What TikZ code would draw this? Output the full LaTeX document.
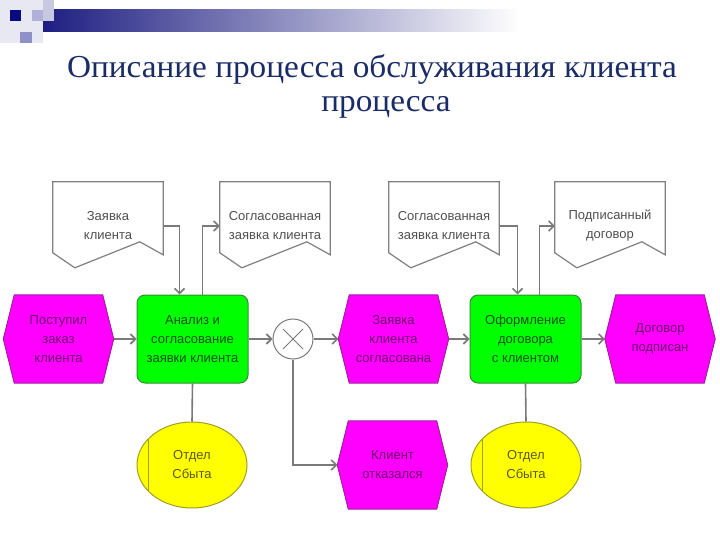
\documentclass[tikz,border=0pt]{standalone}
\usepackage{fontspec}
\setmainfont{Liberation Serif}
\newfontfamily\dsans{Liberation Sans}
\usetikzlibrary{calc,arrows.meta,backgrounds,shapes.geometric}
\definecolor{linegray}{HTML}{7A7A7A}
\definecolor{evfill}{HTML}{FF00FF}
\definecolor{evborder}{HTML}{A020A0}
\definecolor{evtext}{HTML}{6E006E}
\definecolor{fnfill}{HTML}{00FF00}
\definecolor{fnborder}{HTML}{309030}
\definecolor{fntext}{HTML}{0E500E}
\definecolor{orgfill}{HTML}{FFFF00}
\definecolor{orgborder}{HTML}{A0A020}
\definecolor{orgtext}{HTML}{5A5A10}
\definecolor{doctext}{HTML}{505050}
\definecolor{docborder}{HTML}{808080}
\definecolor{titleblue}{HTML}{1A2C68}
\definecolor{navy}{HTML}{1E1E82}
\tikzset{
  box/.style={inner sep=0pt, align=center, font=\dsans\fontsize{13}{19}\selectfont},
  event/.style={box, minimum width=110pt, minimum height=88pt, text=evtext},
  fn/.style={box, rounded corners=8pt, draw=fnborder, fill=fnfill, line width=1pt,
    minimum width=111pt, minimum height=88pt, text=fntext},
  docnode/.style={box, minimum width=110pt, minimum height=88pt, text=doctext},
  org/.style={box, ellipse, draw=orgborder, fill=orgfill, line width=1pt,
    minimum width=110pt, minimum height=86pt, text=orgtext},
  flow/.style={draw=linegray, line width=1.6pt, -{Straight Barb[length=5pt,width=10pt]}},
  link/.style={draw=linegray, line width=1.6pt},
  hexdraw/.style={fill=evfill, draw=evborder, line width=1pt},
  docdraw/.style={fill=white, draw=docborder, line width=1.2pt},
  titletext/.style={font=\fontsize{32}{36}\selectfont, text=titleblue, inner sep=0pt, anchor=base}
}
\newcommand\hexshape[1]{\path[hexdraw] ($(#1.north west)+(11,0)$) -- ($(#1.north east)+(-11,0)$) -- (#1.east) -- ($(#1.south east)+(-11,0)$) -- ($(#1.south west)+(11,0)$) -- (#1.west) -- cycle;}
\newcommand\docshape[1]{\path[docdraw] (#1.north west) -- (#1.north east) -- ($(#1.north east)+(0,73)$) -- ($(#1.north west)+(87,60)$) -- ($(#1.north west)+(22,86)$) -- ($(#1.north west)+(0,71)$) -- cycle;}
\begin{document}
\begin{tikzpicture}[x=1pt,y=-1pt]
\useasboundingbox (0,0) rectangle (720,540);
% header decoration
\fill[left color=navy, right color=white] (43,10) rectangle (520,32);
\fill[color={rgb,255:red,232;green,232;blue,242}] (0,0) rectangle (43,43);
\fill[color={rgb,255:red,200;green,200;blue,224}] (43,0) rectangle (54,21);
\fill[color={rgb,255:red,176;green,176;blue,216}] (32,10) rectangle (43,21);
\fill[color={rgb,255:red,144;green,144;blue,200}] (20,32) rectangle (32,43);
\fill[color={rgb,255:red,10;green,10;blue,128}] (10,10) rectangle (21,21);
% title
\node[titletext] (t1) at (372,78) {\scalebox{1.04}[1]{Описание процесса обслуживания клиента}};
\node[titletext] (t2) at (386,112) {\scalebox{1.04}[1]{процесса}};
% documents
\node[docnode] (d1) at (108,226) {Заявка\\клиента};
\node[docnode] (d2) at (275,226) {Согласованная\\заявка клиента};
\node[docnode] (d3) at (444,226) {Согласованная\\заявка клиента};
\node[docnode] (d4) at (610,226) {Подписанный\\договор};
% events
\node[event] (e1) at (58.5,339) {Поступил\\заказ\\клиента};
\node[event] (e2) at (393.5,339) {Заявка\\клиента\\согласована};
\node[event] (e3) at (660,339) {Договор\\подписан};
\node[event] (e4) at (392.5,465) {Клиент\\отказался};
% functions
\node[fn] (f1) at (192.5,339) {Анализ и\\согласование\\заявки клиента};
\node[fn] (f2) at (525.5,339) {Оформление\\договора\\с клиентом};
% xor
\node[circle, draw=linegray, fill=white, line width=1pt, minimum size=40pt, inner sep=0pt] (x1) at (293,339) {};
\draw[linegray, line width=1pt] ($(x1.center)+(-10,-10)$) -- ($(x1.center)+(10,10)$);
\draw[linegray, line width=1pt] ($(x1.center)+(-10,10)$) -- ($(x1.center)+(10,-10)$);
% org units
\node[org] (o1) at (192,465) {Отдел\\Сбыта};
\node[org] (o2) at (526,465) {Отдел\\Сбыта};
\draw[orgborder, line width=1pt] ($(o1.center)+(-44,-25.8)$) -- ($(o1.center)+(-44,25.8)$);
\draw[orgborder, line width=1pt] ($(o2.center)+(-44,-25.8)$) -- ($(o2.center)+(-44,25.8)$);
% shapes behind text
\begin{pgfonlayer}{background}
\fill[white] (0,0) rectangle (720,540);
\hexshape{e1}\hexshape{e2}\hexshape{e3}\hexshape{e4}
\docshape{d1}\docshape{d2}\docshape{d3}\docshape{d4}
\end{pgfonlayer}
% connectors
\draw[flow] (d1.east) -| ([xshift=-13pt]f1.north);
\draw[flow] ([xshift=10pt]f1.north) |- (d2.west);
\draw[flow] (d3.east) -| ([xshift=-8pt]f2.north);
\draw[flow] ([xshift=14pt]f2.north) |- (d4.west);
\draw[flow] (e1.east) -- (f1.west);
\draw[flow] (f1.east) -- (x1.west);
\draw[flow] (x1.east) -- (e2.west);
\draw[flow] (e2.east) -- (f2.west);
\draw[flow] (f2.east) -- (e3.west);
\draw[flow] (x1.south) |- (e4.west);
\draw[link] (f1.south) -- (o1.north);
\draw[link] (f2.south) -- (o2.north);
\end{tikzpicture}
\end{document}
